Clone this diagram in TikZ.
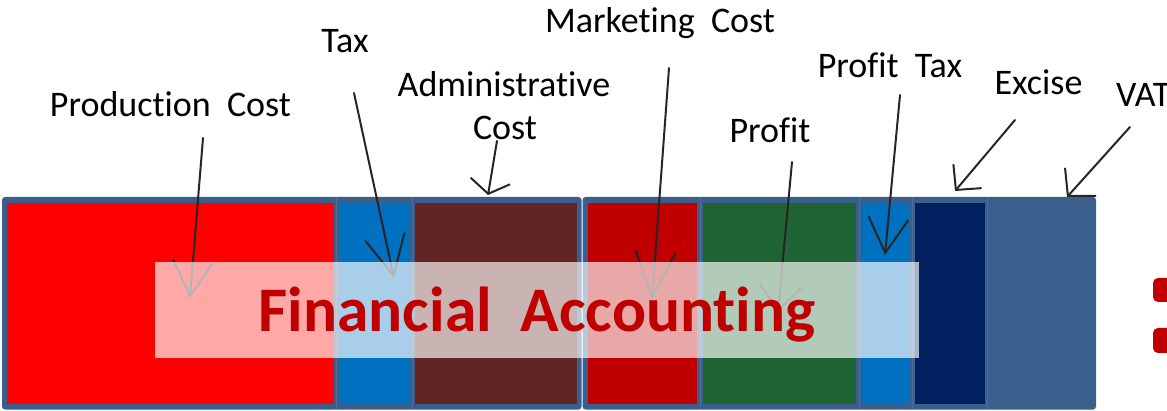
\documentclass[tikz,border=0pt]{standalone}
\usepackage{fontspec}
\setmainfont{Carlito}[Ligatures={NoCommon}]
\usetikzlibrary{arrows.meta}
\definecolor{framec}{HTML}{3A5F8C}
\definecolor{sepc}{HTML}{4B6D98}
\definecolor{cred}{HTML}{FF0000}
\definecolor{cblue}{HTML}{0070C0}
\definecolor{cbrown}{HTML}{632523}
\definecolor{cdred}{HTML}{C00000}
\definecolor{cgreen}{HTML}{1F6432}
\definecolor{cnavy}{HTML}{002060}
\begin{document}
\begin{tikzpicture}[x=1pt,y=-1pt,
  lbl/.style={font=\fontsize{36}{43}\selectfont, inner sep=0pt, anchor=base, text=black},
  sep/.style={draw=sepc, line width=1pt},
  arr/.style={line width=2pt, line cap=round, line join=round, draw=black!85},
]
\useasboundingbox (0,0) rectangle (1167,411);
\clip (0,0) rectangle (1167,411);
% frames
\fill[framec, rounded corners=3pt] (2,197) rectangle (581.5,409.5);
\fill[framec, rounded corners=3pt] (582.5,197) rectangle (1096,409.5);
% cells
\fill[cred]   (7,203)   rectangle (334,404);
\fill[cblue]  (339,203) rectangle (410,404);
\fill[cbrown] (415,203) rectangle (577,404);
\fill[cdred]  (588,203) rectangle (697,404);
\fill[cgreen] (703,203) rectangle (856,404);
\fill[cblue]  (862,203) rectangle (909,404);
\fill[cnavy]  (915,203) rectangle (985,404);
% separators
\foreach \x in {336.5,412.5,700,859,912,987.5} \draw[sep] (\x,197) -- (\x,409);
% labels
\node[lbl] (pc)  at (170.5,117) {Production\ \ Cost};
\node[lbl] (tax) at (345,53) {Tax};
\node[lbl] (adm) at (504,97) {Administrative};
\node[lbl] (admc) at (505,140) {Cost};
\node[lbl] (mkt) at (660,33) {Marketing\ \ Cost};
\node[lbl] (pro) at (770,143) {Profit};
\node[lbl] (ptx) at (890,78) {Profit\ \ Tax};
\node[lbl] (exc) at (1038.5,95) {Excise};
\node[lbl, anchor=base west] (vat) at (1116,107) {VAT};
% arrow coordinates
\coordinate (pc-s) at (203,138);   \coordinate (pc-t) at (190,298);
\coordinate (tax-s) at (354,93);   \coordinate (tax-t) at (394,278);
\coordinate (adm-s) at (497,141);  \coordinate (adm-t) at (488,195);
\coordinate (mkt-s) at (669,68);   \coordinate (mkt-t) at (652,300);
\coordinate (pro-s) at (792,162);  \coordinate (pro-t) at (778,312);
\coordinate (ptx-s) at (900,95);   \coordinate (ptx-t) at (885,255);
\coordinate (exc-s) at (1015,120); \coordinate (exc-t) at (955,191);
\coordinate (vat-s) at (1130,127); \coordinate (vat-t) at (1067,197);
% arrows
\draw[arr, -{Straight Barb[length=35pt,width=40pt]}] (pc-s) -- (pc-t);
\draw[arr, -{Straight Barb[length=40pt,width=40pt]}] (tax-s) -- (tax-t);
\draw[arr, -{Straight Barb[length=13pt,width=40pt]}] (adm-s) -- (adm-t);
\draw[arr, -{Straight Barb[length=46pt,width=40pt]}] (mkt-s) -- (mkt-t);
\draw[arr, -{Straight Barb[length=25pt,width=42pt]}] (pro-s) -- (pro-t);
\draw[arr, -{Straight Barb[length=35pt,width=40pt]}] (ptx-s) -- (ptx-t);
\draw[arr, -{Straight Barb[length=18pt,width=37pt]}] (exc-s) -- (exc-t);
\draw[arr, -{Straight Barb[length=19pt,width=42pt]}] (vat-s) -- (vat-t);
% overlay
\fill[white, opacity=0.66] (155,262) rectangle (919,358);
\node[inner sep=0pt, anchor=base, text=cdred, font=\bfseries\fontsize{63.5}{70}\selectfont] (fa) at (537,332) {Financial\ \ Accounting};
% partial colon at right edge
\fill[cdred, rounded corners=5pt] (1153,278) rectangle (1185,302);
\fill[cdred, rounded corners=5pt] (1153,328) rectangle (1185,353);
\end{tikzpicture}
\end{document}
